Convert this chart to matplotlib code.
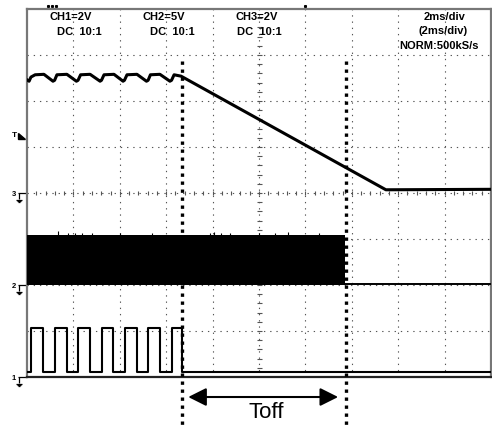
import matplotlib
matplotlib.use("Agg")
import matplotlib.pyplot as plt
from matplotlib.patches import Polygon

# ---------------- data (time in ms, amplitude in divisions) ----------------
# CH3 trace (top waveform): ripple, then linear decay after turn-off
ch3_t = [0.00, 0.09, 0.17, 0.35, 0.73, 1.12, 1.19, 1.29, 1.72, 2.13, 2.20, 2.31,
         2.72, 3.15, 3.21, 3.32, 3.75, 4.14, 4.20, 4.31, 4.74, 5.15, 5.22, 5.32,
         5.73, 6.16, 6.23, 6.34, 6.64, 15.47, 19.96]
ch3_v = [6.46, 6.43, 6.52, 6.57, 6.58, 6.43, 6.45, 6.57, 6.58, 6.43, 6.45, 6.57,
         6.58, 6.43, 6.45, 6.57, 6.58, 6.43, 6.45, 6.57, 6.58, 6.43, 6.45, 6.57,
         6.58, 6.43, 6.45, 6.57, 6.54, 4.07, 4.08]

# CH2 (switching noise band, then flat)
ch2_band_t = [0.0, 13.72]
ch2_band_lo = [2.0, 2.0]
ch2_band_hi = [3.09, 3.09]
ch2_spike_t = [1.35, 1.75, 2.05, 2.35, 2.80, 4.0, 5.4, 7.9, 8.05, 8.35, 8.75, 10.0, 10.7, 11.25, 12.6]
ch2_spike_h = [3.17, 3.14, 3.13, 3.14, 3.13, 3.13, 3.13, 3.14, 3.16, 3.13, 3.14, 3.13, 3.14, 3.15, 3.13]
ch2_after_t = [13.72, 19.96]
ch2_after_v = [2.03, 2.03]

# CH1 (gate square wave): edge times, low/high levels
ch1_edges = [0.17, 0.69, 1.21, 1.72, 2.20, 2.72, 3.23, 3.71, 4.22, 4.74, 5.22, 5.73, 6.25, 6.66]
ch1_low = 0.10
ch1_high = 1.07
ch1_end = 19.96

# markers
toff_start = 6.67
toff_end = 13.74
ground_levels = [("1", 0.0), ("2", 2.0), ("3", 4.0)]
trigger_level = 5.24

header_left = [("CH1=2V", 0.99), ("CH2=5V", 4.99), ("CH3=2V", 8.99)]
header_dc = [("DC  10:1", 1.30), ("DC  10:1", 5.30), ("DC  10:1", 9.06)]
header_right = ["2ms/div", "(2ms/div)", "NORM:500kS/s"]

# ---------------- figure ----------------
fig = plt.figure(figsize=(4.92, 4.25), dpi=100)
ax = fig.add_axes([27 / 492, (425 - 377) / 425, 464 / 492, 368 / 425])
ax.set_xlim(0, 20)
ax.set_ylim(0, 8)
ax.set_xticks([])
ax.set_yticks([])
for s in ["left", "top", "right"]:
    ax.spines[s].set_color("#777777")
    ax.spines[s].set_linewidth(1.6)
ax.spines["bottom"].set_color("#222222")
ax.spines["bottom"].set_linewidth(1.6)

MSPX = 20 / 464.0   # ms per pixel
DVPX = 8 / 368.0    # div per pixel

grid_kw = dict(color="#555555", lw=0.8, linestyle=(0, (1.2, 4.4)), zorder=1)
for gx in range(2, 20, 2):
    ax.axvline(gx, **grid_kw)
for gy in range(1, 8):
    ax.axhline(gy, **grid_kw)
# centre tick marks
tk = [i * 0.4 for i in range(1, 50)]
ax.vlines(tk, 4 - 2 * DVPX, 4 + 2 * DVPX, color="#555555", lw=0.8, zorder=1)
tky = [i * 0.2 for i in range(1, 40)]
ax.hlines(tky, 10 - 2.5 * MSPX, 10 + 2.5 * MSPX, color="#555555", lw=0.8, zorder=1)

# CH3
ax.plot(ch3_t, ch3_v, color="black", lw=2.2, solid_joinstyle="round", zorder=3)

# CH2
ax.fill_between(ch2_band_t, ch2_band_lo, ch2_band_hi, color="black", lw=0, zorder=3)
ax.vlines(ch2_spike_t, 3.05, ch2_spike_h, color="black", lw=0.8, zorder=3)
ax.plot(ch2_after_t, ch2_after_v, color="black", lw=1.4, zorder=3)

# CH1 square wave
sq_t = [0.0] + ch1_edges + [ch1_end]
sq_v = [ch1_low]
for i in range(len(ch1_edges)):
    sq_v.append(ch1_high if i % 2 == 0 else ch1_low)
sq_v.append(sq_v[-1])
ax.plot(sq_t, sq_v, drawstyle="steps-post", color="black", lw=1.5, zorder=3)

# Toff dotted markers
for xv in (toff_start, toff_end):
    ax.plot([xv, xv], [6.87, -1.06], color="black", lw=2.4,
            linestyle=(0, (1, 1.4)), dash_capstyle="butt", clip_on=False, zorder=4)

ax.annotate("", xy=(toff_end - 0.33, -0.435), xytext=(toff_start + 0.28, -0.435),
            arrowprops=dict(arrowstyle="<|-|>,head_length=1.1,head_width=0.55",
                            mutation_scale=10, lw=1.5, color="black",
                            shrinkA=0, shrinkB=0),
            annotation_clip=False)
ax.text(10.3, -0.78, "Toff", ha="center", va="center", fontsize=16,
        family="Liberation Sans", clip_on=False)

# header texts
hdr = dict(fontsize=8, family="Liberation Sans", fontweight="bold",
           va="center", ha="left", zorder=5)
for txt, xv in header_left:
    ax.text(xv, (377 - 17) / 46, txt, **hdr)
for txt, xv in header_dc:
    ax.text(xv, (377 - 32) / 46, txt, **hdr)
for i, (txt, xc) in enumerate(zip(header_right, [18.01, 17.92, 17.76])):
    ax.text(xc, (377 - 17 - 14.5 * i) / 46, txt, fontsize=8, family="Liberation Sans",
            fontweight="bold", va="center", ha="center", zorder=5)

# ground markers
gk = dict(color="black", lw=0.9, clip_on=False, solid_capstyle="butt")
for lab, g in ground_levels:
    ax.plot([-9 * MSPX, 0], [g, g], **gk)
    ax.plot([-8 * MSPX, -8 * MSPX], [g, g - 6 * DVPX], **gk)
    for j, w in enumerate([3.0, 2.0, 1.0]):
        yy = g - (6.5 + j) * DVPX
        ax.plot([-8 * MSPX - w * MSPX, -8 * MSPX + w * MSPX], [yy, yy], **gk)
    ax.text(-13 * MSPX, g - 2 * DVPX, lab, fontsize=5.5, family="Liberation Sans",
            fontweight="bold", ha="center", va="center", clip_on=False)

# trigger marker
ax.text(-12.5 * MSPX, trigger_level, "T", fontsize=6, family="Liberation Sans",
        fontweight="bold", ha="center", va="center", clip_on=False)
tri = Polygon([(-9 * MSPX, trigger_level + 3 * DVPX),
               (-9 * MSPX, trigger_level - 3 * DVPX),
               (-2 * MSPX, trigger_level - 3 * DVPX)],
              closed=True, color="black", clip_on=False)
ax.add_patch(tri)

# small position dots above frame
for xv in [21 * MSPX, 25 * MSPX, 29 * MSPX, 278 * MSPX]:
    ax.plot([xv], [8 + 3 * DVPX], "s", ms=1.2, color="black", clip_on=False)

fig.savefig("out.png", dpi=100)
